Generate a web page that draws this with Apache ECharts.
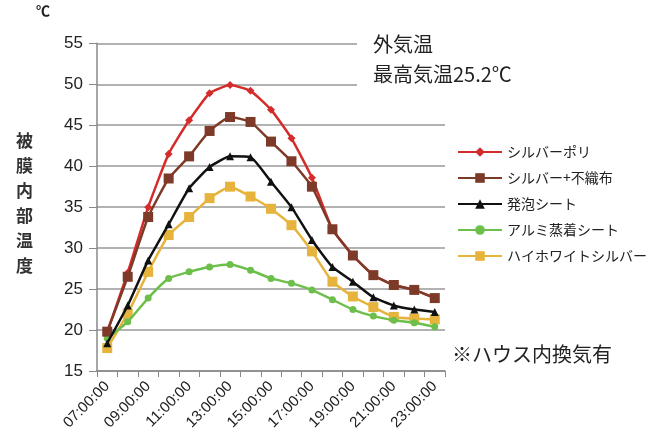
<!DOCTYPE html>
<html><head><meta charset="utf-8">
<script src="https://cdn.jsdelivr.net/npm/echarts@6/dist/echarts.min.js"></script>
<style>html,body{margin:0;padding:0;background:#fff}#c{width:662px;height:448px}</style>
</head><body><div id="c"></div>
<script>
const categories = ['07:00:00','08:00:00','09:00:00','10:00:00','11:00:00','12:00:00','13:00:00','14:00:00','15:00:00','16:00:00','17:00:00','18:00:00','19:00:00','20:00:00','21:00:00','22:00:00','23:00:00'];
const silverPoly   = [19.8, 27.0, 35.0, 41.5, 45.6, 48.9, 49.9, 49.2, 46.9, 43.4, 38.6, 32.3, 29.1, 26.7, 25.5, 24.9, 23.9];
const silverFelt   = [19.8, 26.5, 33.8, 38.5, 41.2, 44.3, 46.0, 45.4, 43.0, 40.6, 37.5, 32.3, 29.1, 26.7, 25.5, 24.9, 23.9];
const foamSheet    = [18.4, 23.0, 28.5, 32.9, 37.3, 39.9, 41.2, 41.1, 38.1, 35.0, 31.0, 27.7, 25.9, 24.0, 23.0, 22.5, 22.2];
const aluSheet     = [19.0, 21.0, 23.9, 26.3, 27.1, 27.7, 28.0, 27.3, 26.3, 25.7, 24.9, 23.7, 22.5, 21.7, 21.2, 20.9, 20.4];
const hiWhite      = [17.8, 22.0, 27.1, 31.6, 33.8, 36.1, 37.5, 36.3, 34.8, 32.8, 29.6, 25.9, 24.1, 22.8, 21.6, 21.4, 21.3];
const seriesNames  = ['シルバーポリ','シルバー+不織布','発泡シート','アルミ蒸着シート','ハイホワイトシルバー'];
const yTicks = {min: 15, max: 55, interval: 5};

const JP = '"Noto Sans CJK JP", sans-serif';
const chart = echarts.init(document.getElementById('c'));
function mk(name, data, color, symbol, size, z) {
  return {name, type:'line', data, symbol, symbolSize:size, z,
    lineStyle:{color, width:2.5}, itemStyle:{color}, smooth:0.15};
}
chart.setOption({
  animation:false,
  grid:{left:97, right:217, top:43.3, bottom:77},
  legend:{orient:'vertical', left:452, top:140, itemWidth:44, itemHeight:12, itemGap:12,
    textStyle:{fontFamily:JP, fontSize:14, color:'#222'},
    data:seriesNames},
  xAxis:{type:'category', data:categories, boundaryGap:true,
    axisLine:{lineStyle:{color:'#888', width:1.5}},
    axisTick:{show:true, interval:0, length:6, lineStyle:{color:'#888'}},
    axisLabel:{interval:1, rotate:45, fontSize:15, color:'#222', fontFamily:'"Liberation Sans", Arial', margin:13}},
  yAxis:{type:'value', min:yTicks.min, max:yTicks.max, interval:yTicks.interval,
    axisLine:{show:true, lineStyle:{color:'#888', width:1.5}},
    axisTick:{show:true, length:8, lineStyle:{color:'#888'}},
    splitLine:{lineStyle:{color:'#999', width:1.5}},
    axisLabel:{fontSize:17, color:'#222', fontFamily:'"Liberation Sans", Arial', margin:14}},
  series:[
    mk(seriesNames[0], silverPoly, '#d42b2b', 'diamond', 8, 3),
    mk(seriesNames[1], silverFelt, '#7e3a28', 'rect', 10, 4),
    mk(seriesNames[2], foamSheet, '#111111', 'triangle', 8, 5),
    mk(seriesNames[3], aluSheet, '#6cbf4a', 'circle', 7, 2),
    mk(seriesNames[4], hiWhite, '#e6b43c', 'rect', 10, 1)
  ],
  graphic:[
    {type:'rect', z:100, shape:{x:357, y:30, width:95, height:62}, style:{fill:'#fff'}},
    {type:'text', z:101, left:373, top:34, style:{text:'外気温', font:'20px '+JP, fill:'#222'}},
    {type:'text', z:101, left:373, top:64, style:{text:'最高気温25.2℃', font:'20px '+JP, fill:'#222'}},
    {type:'text', z:101, left:452, top:344, style:{text:'※ハウス内換気有', font:'20px '+JP, fill:'#222'}},
    {type:'text', z:101, left:36, top:4, style:{text:'℃', font:'bold 14px '+JP, fill:'#222'}},
    {type:'text', z:101, left:16, top:128, style:{text:'被\n膜\n内\n部\n温\n度', font:'bold 17px '+JP, fill:'#333', lineHeight:25}}
  ]
});
</script></body></html>
